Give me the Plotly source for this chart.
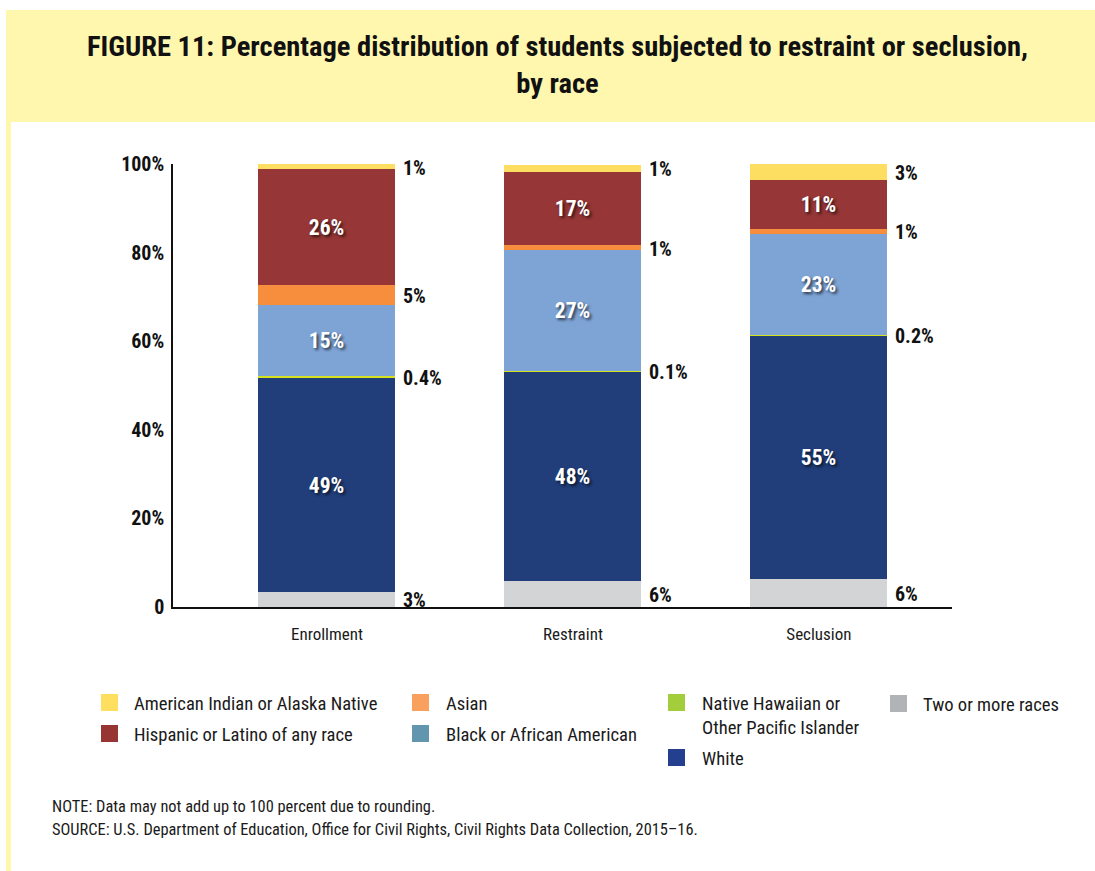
import plotly.graph_objects as go

# ---------------- data ----------------
categories = ["Enrollment", "Restraint", "Seclusion"]

two_or_more = [3.4, 5.9, 6.3]
white = [48.4, 47.3, 54.9]
native_hawaiian = [0.4, 0.1, 0.2]
black = [15.9, 27.3, 22.9]
asian = [4.7, 1.1, 1.1]
hispanic = [26.0, 16.5, 11.1]
american_indian = [1.1, 1.6, 3.6]

labels_two_or_more = ["3%", "6%", "6%"]
labels_white = ["49%", "48%", "55%"]
labels_native_hawaiian = ["0.4%", "0.1%", "0.2%"]
labels_black = ["15%", "27%", "23%"]
labels_asian = ["5%", "1%", "1%"]
labels_hispanic = ["26%", "17%", "11%"]
labels_american_indian = ["1%", "1%", "3%"]

y_tick_values = [0, 20, 40, 60, 80, 100]
y_tick_labels = ["0", "20%", "40%", "60%", "80%", "100%"]

legend_names = [
    "American Indian or Alaska Native",
    "Hispanic or Latino of any race",
    "Asian",
    "Black or African American",
    "Native Hawaiian or<br>Other Pacific Islander",
    "White",
    "Two or more races",
]

title_text = ("FIGURE 11: Percentage distribution of students subjected to restraint or seclusion,"
              "<br>by race")
note_text = "NOTE: Data may not add up to 100 percent due to rounding."
source_text = ("SOURCE: U.S. Department of Education, Office for Civil Rights, "
               "Civil Rights Data Collection, 2015\u201316.")

# ---------------- style ----------------
FONT = "Roboto Condensed, Open Sans Condensed, Liberation Sans Narrow, DejaVu Sans Condensed, sans-serif"
YELLOW_BG = "#fff7ae"

series = [
    # values, labels, bar colour, inside label?
    (two_or_more, labels_two_or_more, "#d3d4d6", False),
    (white, labels_white, "#213e7b", True),
    (native_hawaiian, labels_native_hawaiian, "#d6e21c", False),
    (black, labels_black, "#7ea4d6", True),
    (asian, labels_asian, "#f68e3e", False),
    (hispanic, labels_hispanic, "#963636", True),
    (american_indian, labels_american_indian, "#fede60", False),
]
legend_colors = ["#ffdf5f", "#973535", "#f9a05f", "#6196ae", "#a3cd3b", "#233f8e", "#b2b3b6"]
# legend placement (pixel): swatch left, swatch top, text left, text centre y
legend_pos = [
    (101, 694, 132, 704),
    (101, 725, 132, 735),
    (412, 694, 444, 704),
    (412, 725, 444, 735),
    (668, 694, 700, 716),
    (668, 749, 700, 759),
    (890, 695, 921, 705),
]

W, H = 1095, 871
L, R, T, B = 173, 952, 164, 607
BAR_W = 0.557


def px(x):
    return (x - L) / (R - L)


def py(y):
    return (B - y) / (B - T)


fig = go.Figure()

n = len(categories)
base = [0.0] * n
annotations = []
for vals, labs, color, inside in series:
    fig.add_trace(go.Bar(
        x=categories, y=vals, width=BAR_W,
        marker=dict(color=color, line=dict(width=0)),
        text=labs if inside else None,
        textposition="inside" if inside else "none",
        insidetextanchor="middle",
        textangle=0,
        textfont=dict(family=FONT, size=21.5, color="white", weight="bold",
                      shadow="2px 2px 3px rgba(0,0,0,0.65)"),
        showlegend=False, hoverinfo="skip",
    ))
    if not inside:
        for i in range(n):
            annotations.append(dict(
                x=i + BAR_W / 2, y=base[i] + vals[i] / 2, xref="x", yref="y",
                text=labs[i], showarrow=False, xanchor="left", yanchor="middle",
                xshift=6, yshift=-1,
                font=dict(family=FONT, size=20, color="#111111", weight="bold"),
            ))
    base = [b + v for b, v in zip(base, vals)]

# legend drawn manually
shapes = []
for name, col, (sx, sy, tx, ty) in zip(legend_names, legend_colors, legend_pos):
    shapes.append(dict(type="rect", xref="paper", yref="paper",
                       x0=px(sx), x1=px(sx + 17), y0=py(sy + 17), y1=py(sy),
                       fillcolor=col, line=dict(width=0)))
    annotations.append(dict(x=px(tx), y=py(ty), xref="paper", yref="paper",
                            text=name, showarrow=False, xanchor="left", yanchor="middle",
                            align="left",
                            font=dict(family=FONT, size=18.6, color="#1a1a1a")))

# yellow header band and left strip
shapes.append(dict(type="rect", xref="paper", yref="paper", layer="below",
                   x0=px(6), x1=px(W), y0=py(122), y1=py(10),
                   fillcolor=YELLOW_BG, line=dict(width=0)))
shapes.append(dict(type="rect", xref="paper", yref="paper", layer="below",
                   x0=px(6), x1=px(11), y0=py(H), y1=py(122),
                   fillcolor=YELLOW_BG, line=dict(width=0)))

annotations.append(dict(x=px(557), y=py(65), xref="paper", yref="paper",
                        text=title_text, showarrow=False, xanchor="center", yanchor="middle",
                        align="center",
                        font=dict(family=FONT, size=28.5, color="#111111", weight="bold")))
annotations.append(dict(x=px(50), y=py(806), xref="paper", yref="paper",
                        text=note_text, showarrow=False, xanchor="left", yanchor="middle",
                        font=dict(family=FONT, size=16.4, color="#1a1a1a")))
annotations.append(dict(x=px(50), y=py(830), xref="paper", yref="paper",
                        text=source_text, showarrow=False, xanchor="left", yanchor="middle",
                        font=dict(family=FONT, size=16.4, color="#1a1a1a")))

fig.update_layout(
    width=W, height=H, autosize=False,
    margin=dict(l=L, r=W - R, t=T, b=H - B, pad=0),
    paper_bgcolor="white", plot_bgcolor="white",
    barmode="stack", bargap=0,
    shapes=shapes, annotations=annotations,
    showlegend=False,
    xaxis=dict(range=[-0.626, 2.541], showline=True, linecolor="#111111", linewidth=1.5,
               ticks="", showgrid=False, zeroline=False, ticklabelstandoff=11,
               tickfont=dict(family=FONT, size=17, color="#1a1a1a")),
    yaxis=dict(range=[0, 100], tickvals=y_tick_values, ticktext=y_tick_labels,
               showline=True, linecolor="#111111", linewidth=1.5,
               ticks="", showgrid=False, zeroline=False, ticklabelstandoff=3,
               tickfont=dict(family=FONT, size=20, color="#111111", weight="bold")),
)

fig.write_html("out.html", config={"displayModeBar": False},
               post_script="document.body.style.margin='0';")
